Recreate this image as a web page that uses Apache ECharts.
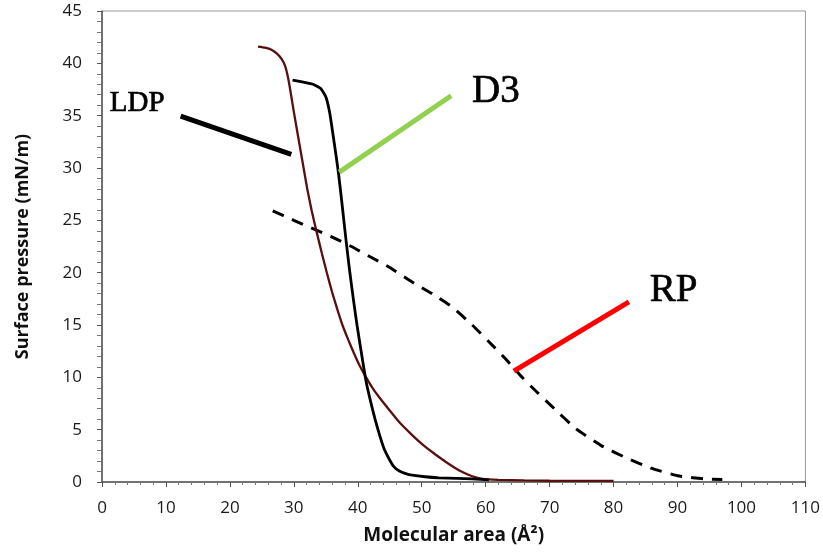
<!DOCTYPE html>
<html>
<head>
<meta charset="utf-8">
<script src="https://cdn.jsdelivr.net/npm/echarts@6/dist/echarts.min.js"></script>
<style>html,body{margin:0;padding:0;background:#fff}#c{width:823px;height:553px}</style>
</head>
<body>
<div id="c"></div>
<script>
// D3 (black solid)
const d3Area = [29.8,31.5,33.0,34.2,35.0,35.6,36.1,36.6,37.0,37.4,37.8,38.2,38.7,39.3,39.9,40.6,41.3,42.0,42.7,43.4,44.1,44.9,45.6,46.5,47.5,48.5,50.5,52.7,55.5,57.9,60.5];
const d3Pres = [38.4,38.2,38.0,37.6,36.8,35.3,33.3,31.2,29.4,27.3,25.1,22.9,20.3,17.5,14.9,12.2,9.6,7.7,6.0,4.5,3.2,2.2,1.5,1.05,0.8,0.65,0.5,0.4,0.35,0.3,0.2];
// LDP (dark red)
const ldpArea = [24.4,25.5,26.5,27.4,28.1,28.6,29.0,29.4,29.8,30.3,30.9,31.5,32.1,32.8,33.6,34.4,35.2,36.0,36.8,37.6,38.5,39.4,40.3,41.3,42.4,43.6,44.9,46.5,48.3,50.1,52.2,54.3,56.2,57.9,59.5,62,66,70,75,80];
const ldpPres = [41.6,41.5,41.3,40.9,40.4,39.8,38.9,37.6,36.1,34.3,32.2,30.1,28.0,25.9,23.8,21.8,19.9,18.1,16.5,15.0,13.6,12.3,11.1,10.0,8.9,7.9,6.9,5.7,4.6,3.6,2.6,1.7,1.0,0.55,0.3,0.2,0.15,0.12,0.1,0.1];
// RP (black dashed)
const rpArea = [26.7,30,33,36.0,39,42,45,48.5,51.6,54.8,57.9,60.5,63.2,65.7,68,70.4,74.1,78.0,82.0,86.0,90.0,94.0,97.0];
const rpPres = [25.9,25.0,24.2,23.4,22.5,21.5,20.5,19.1,18.0,16.7,15.0,13.4,11.7,10.0,8.6,7.2,5.1,3.5,2.3,1.3,0.6,0.3,0.25];
// x / y axis ticks
const xTicks = [0,10,20,30,40,50,60,70,80,90,100,110];
const yTicks = [0,5,10,15,20,25,30,35,40,45];
// annotation labels and pointer lines (data units)
const labelNames = ['LDP','D3','RP'];
const labelX = [5.5,61.6,89.4];
const labelY = [36.2,37.25,18.3];
const pointerStartX = [12.3,37.1,64.4];
const pointerStartY = [34.96,29.6,10.6];
const pointerEndX = [29.6,54.6,82.4];
const pointerEndY = [31.3,36.9,17.2];

const labelSizes = [29,39,39];
const pointerColors = ['#000000','#92d050','#ff0000'];

const zip = (a,b) => a.map((v,i)=>[v,b[i]]);

const chart = echarts.init(document.getElementById('c'), null, {renderer:'canvas'});

const markLines = labelNames.map((n,i)=>([
  {coord:[pointerStartX[i],pointerStartY[i]], lineStyle:{color:pointerColors[i],width:5,type:'solid'}},
  {coord:[pointerEndX[i],pointerEndY[i]]}
]));
const markPoints = labelNames.map((n,i)=>({
  coord:[labelX[i],labelY[i]], value:n,
  symbolSize:0,
  label:{show:true,position:'inside',formatter:n,fontFamily:'Liberation Serif',fontSize:labelSizes[i],color:'#000',textBorderColor:'#000',textBorderWidth:0.7}
}));

chart.setOption({
  animation:false,
  backgroundColor:'#fff',
  grid:{left:102,right:16,top:11,bottom:71,show:true,borderColor:'#999',borderWidth:1},
  xAxis:{
    type:'value',min:xTicks[0],max:xTicks[xTicks.length-1],interval:10,
    name:'Molecular area (Å²)',nameLocation:'middle',nameGap:44,
    nameTextStyle:{fontFamily:'Open Sans',fontWeight:'bold',fontSize:19,color:'#111'},
    axisLine:{show:true,lineStyle:{color:'#555',width:1.5}},
    axisTick:{show:true,inside:false,length:5,lineStyle:{color:'#555'}},
    minorTick:{show:true,splitNumber:5,length:3,lineStyle:{color:'#777'}},
    splitLine:{show:false},
    axisLabel:{margin:18,fontFamily:'Open Sans',fontSize:17,color:'#1a1a1a'}
  },
  yAxis:{
    type:'value',min:yTicks[0],max:yTicks[yTicks.length-1],interval:5,
    name:'Surface pressure (mN/m)',nameLocation:'middle',nameGap:70,
    nameTextStyle:{fontFamily:'Open Sans',fontWeight:'bold',fontSize:18,color:'#111'},
    axisLine:{show:true,lineStyle:{color:'#555',width:1.5}},
    axisTick:{show:true,inside:false,length:5,lineStyle:{color:'#555'}},
    minorTick:{show:true,splitNumber:5,length:5,lineStyle:{color:'#777'}},
    splitLine:{show:false},
    axisLabel:{margin:20,fontFamily:'Open Sans',fontSize:17,color:'#1a1a1a'}
  },
  series:[
    {name:'RP',type:'line',data:zip(rpArea,rpPres),showSymbol:false,smooth:0.15,
     lineStyle:{color:'#000',width:3,type:[12,9]},z:2},
    {name:'LDP',type:'line',data:zip(ldpArea,ldpPres),showSymbol:false,smooth:0.15,
     lineStyle:{color:'#5a0f0f',width:2.3},z:3},
    {name:'D3',type:'line',data:zip(d3Area,d3Pres),showSymbol:false,smooth:0.15,
     lineStyle:{color:'#000',width:2.8},z:4,
     markLine:{silent:true,symbol:['none','none'],label:{show:false},data:markLines},
     markPoint:{silent:true,data:markPoints}
    }
  ]
});
</script>
</body>
</html>
